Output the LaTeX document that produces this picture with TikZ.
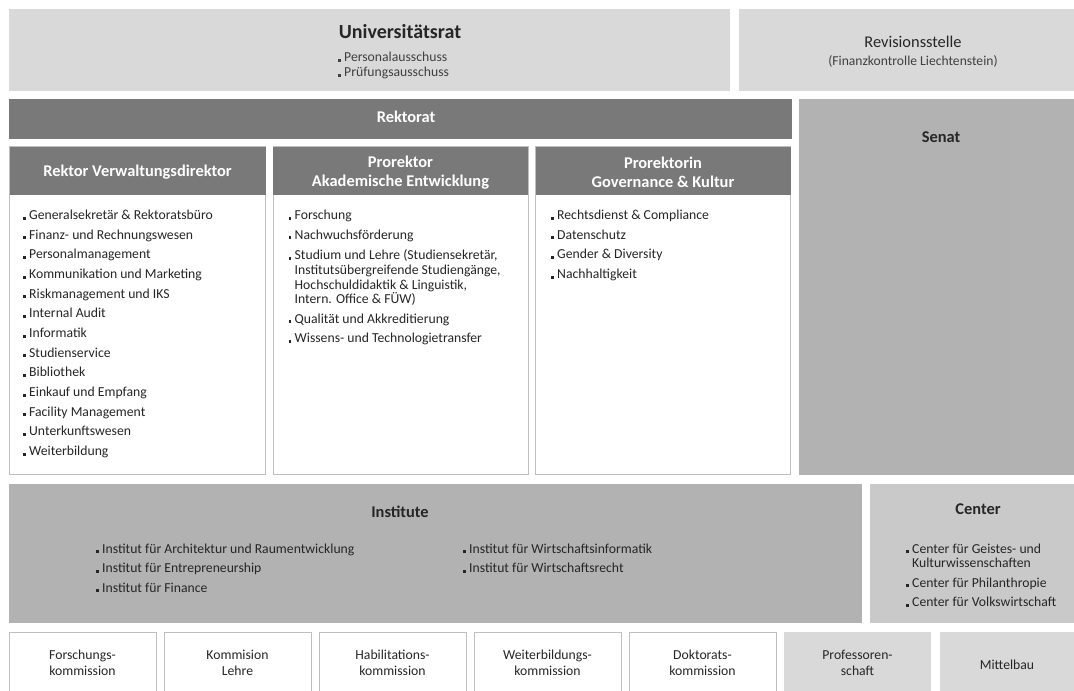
\documentclass[tikz,border=0pt]{standalone}
\usepackage{fontspec}
\setmainfont{Carlito}
\definecolor{lgray}{HTML}{D9D9D9}
\definecolor{dgray}{HTML}{797979}
\definecolor{mgray}{HTML}{B2B2B2}
\definecolor{cgray}{HTML}{C9C9C9}
\definecolor{bgray}{HTML}{BFBFBF}
\definecolor{txt}{HTML}{262626}
\definecolor{ltxt}{HTML}{404040}
\newcommand{\bul}{\rule{2.8bp}{2.8bp}\hspace{3.4bp}}
\newcommand{\ind}{\hphantom{\bul}}
\newcommand{\fbody}{\fontsize{13.7bp}{15bp}\selectfont}
\newcommand{\fhead}{\fontsize{16.4bp}{19bp}\selectfont\bfseries}
\newcommand{\ftitle}{\fontsize{20bp}{24bp}\selectfont\bfseries}
\begin{document}
\begin{tikzpicture}[x=1bp,y=-1bp,
  every node/.style={inner sep=0pt,outer sep=0pt,text=txt},
  panel/.style={anchor=north west,draw=none},
  wbox/.style={anchor=north west,draw=bgray,line width=1bp,fill=white},
  hbox/.style={anchor=north west,draw=none,fill=dgray},
  item/.style={anchor=base west,font=\fbody},
  btxt/.style={align=center,font=\fbody},
  htxt/.style={align=center,font=\fhead,text=white},
  gtxt/.style={align=center,font=\fhead}]
\useasboundingbox (0,0) rectangle (1074,691);
\clip (0,0) rectangle (1074,691);
% top row
\node[panel,fill=lgray,minimum width=721bp,minimum height=82.5bp] (univ) at (9,9) {};
\node[panel,fill=lgray,minimum width=360bp,minimum height=82.5bp] (rev) at (738.5,9) {};
\node[anchor=base,font=\ftitle] (univt) at (400,38.5) {Universitätsrat};
\node[item,text=ltxt] (univa) at (338,62) {\bul Personalausschuss};
\node[item,text=ltxt] (univb) at (338,77) {\bul Prüfungsausschuss};
\node[anchor=base,font=\fontsize{16.4bp}{19bp}\selectfont] (revt) at (913,48) {Revisionsstelle};
\node[anchor=base,font=\fontsize{13.6bp}{15bp}\selectfont,text=ltxt] (revs) at (913,65.5) {(Finanzkontrolle Liechtenstein)};
% rektorat + senat
\node[panel,fill=dgray,minimum width=782.5bp,minimum height=39.5bp] (rek) at (9,99.5) {};
\node[anchor=base,font=\fhead,text=white] (rekt) at (406,123) {Rektorat};
\node[panel,fill=mgray,minimum width=300bp,minimum height=375bp] (sen) at (799,99.5) {};
\node[anchor=base,font=\fhead] (sent) at (941,142.5) {Senat};
% three columns
\node[wbox,minimum width=256bp,minimum height=327.5bp] (c1) at (9.5,147) {};
\node[hbox,minimum width=256bp,minimum height=48bp] (h1) at (9.5,147) {};
\node[wbox,minimum width=255bp,minimum height=327.5bp] (c2) at (273,147) {};
\node[hbox,minimum width=255bp,minimum height=48bp] (h2) at (273,147) {};
\node[wbox,minimum width=255bp,minimum height=327.5bp] (c3) at (535.5,147) {};
\node[hbox,minimum width=255bp,minimum height=48bp] (h3) at (535.5,147) {};
\node[htxt] (h1t) at ([yshift=-1bp]h1.center) {Rektor Verwaltungsdirektor};
\node[htxt] (h2t) at ([yshift=-1.5bp]h2.center) {Prorektor\\Akademische Entwicklung};
\node[htxt] (h3t) at ([yshift=-1.5bp]h3.center) {Prorektorin\\Governance \& Kultur};
\foreach \t [count=\i] in {Generalsekretär \& Rektoratsbüro,Finanz- und Rechnungswesen,Personalmanagement,Kommunikation und Marketing,Riskmanagement und IKS,Internal Audit,Informatik,Studienservice,Bibliothek,Einkauf und Empfang,Facility Management,Unterkunftswesen,Weiterbildung}
  \node[item] (ca\i) at (23,219.5+19.67*\i-19.67) {\bul\t};
\node[item] (cb1) at (288.5,219.5) {\bul Forschung};
\node[item] (cb2) at (288.5,239.2) {\bul Nachwuchsförderung};
\node[item] (cb3) at (288.5,259.5) {\bul Studium und Lehre (Studiensekretär,};
\node[item] (cb3b) at (288.5,274.3) {\ind Institutsübergreifende Studiengänge,};
\node[item] (cb3c) at (288.5,289.1) {\ind Hochschuldidaktik \& Linguistik,};
\node[item] (cb3d) at (288.5,303.9) {\ind Intern. Office \& FÜW)};
\node[item] (cb4) at (288.5,323) {\bul Qualität und Akkreditierung};
\node[item] (cb5) at (288.5,342.7) {\bul Wissens- und Technologietransfer};
\foreach \t [count=\i] in {Rechtsdienst \& Compliance,Datenschutz,Gender \& Diversity,Nachhaltigkeit}
  \node[item] (cc\i) at (551,219.5+19.67*\i-19.67) {\bul\t};
% institute + center
\node[panel,fill=mgray,minimum width=852.5bp,minimum height=139bp] (inst) at (9,483.5) {};
\node[anchor=base,font=\fhead] (instt) at (400,517.5) {Institute};
\node[item] (ia1) at (96,553) {\bul Institut für Architektur und Raumentwicklung};
\node[item] (ia2) at (96,572.5) {\bul Institut für Entrepreneurship};
\node[item] (ia3) at (96,592) {\bul Institut für Finance};
\node[item] (ib1) at (463,553) {\bul Institut für Wirtschaftsinformatik};
\node[item] (ib2) at (463,572.5) {\bul Institut für Wirtschaftsrecht};
\node[panel,fill=cgray,minimum width=230bp,minimum height=139bp] (cen) at (870,483.5) {};
\node[anchor=base,font=\fhead] (cent) at (978,514.5) {Center};
\node[item] (ce1) at (906,553) {\bul Center für Geistes- und};
\node[item] (ce1b) at (906,567.5) {\ind Kulturwissenschaften};
\node[item] (ce2) at (906,587) {\bul Center für Philanthropie};
\node[item] (ce3) at (906,606.5) {\bul Center für Volkswirtschaft};
% bottom row
\node[wbox,minimum width=147bp,minimum height=80bp] (k1) at (9.5,632) {};
\node[wbox,minimum width=147bp,minimum height=80bp] (k2) at (164.5,632) {};
\node[wbox,minimum width=147bp,minimum height=80bp] (k3) at (319.5,632) {};
\node[wbox,minimum width=147bp,minimum height=80bp] (k4) at (474.5,632) {};
\node[wbox,minimum width=147bp,minimum height=80bp] (k5) at (629.5,632) {};
\node[panel,fill=lgray,minimum width=147bp,minimum height=80bp] (k6) at (784,632) {};
\node[panel,fill=lgray,minimum width=160bp,minimum height=80bp] (k7) at (940,632) {};
\node[btxt] (k1t) at (82.5,663) {Forschungs-\\[1.5bp]kommission};
\node[btxt] (k2t) at (237.5,663) {Kommision\\[1.5bp]Lehre};
\node[btxt] (k3t) at (392.5,663) {Habilitations-\\[1.5bp]kommission};
\node[btxt] (k4t) at (547.5,663) {Weiterbildungs-\\[1.5bp]kommission};
\node[btxt] (k5t) at (702.5,663) {Doktorats-\\[1.5bp]kommission};
\node[btxt] (k6t) at (857.5,663) {Professoren-\\[1.5bp]schaft};
\node[btxt] (k7t) at (1007,664.5) {Mittelbau};
\end{tikzpicture}
\end{document}
